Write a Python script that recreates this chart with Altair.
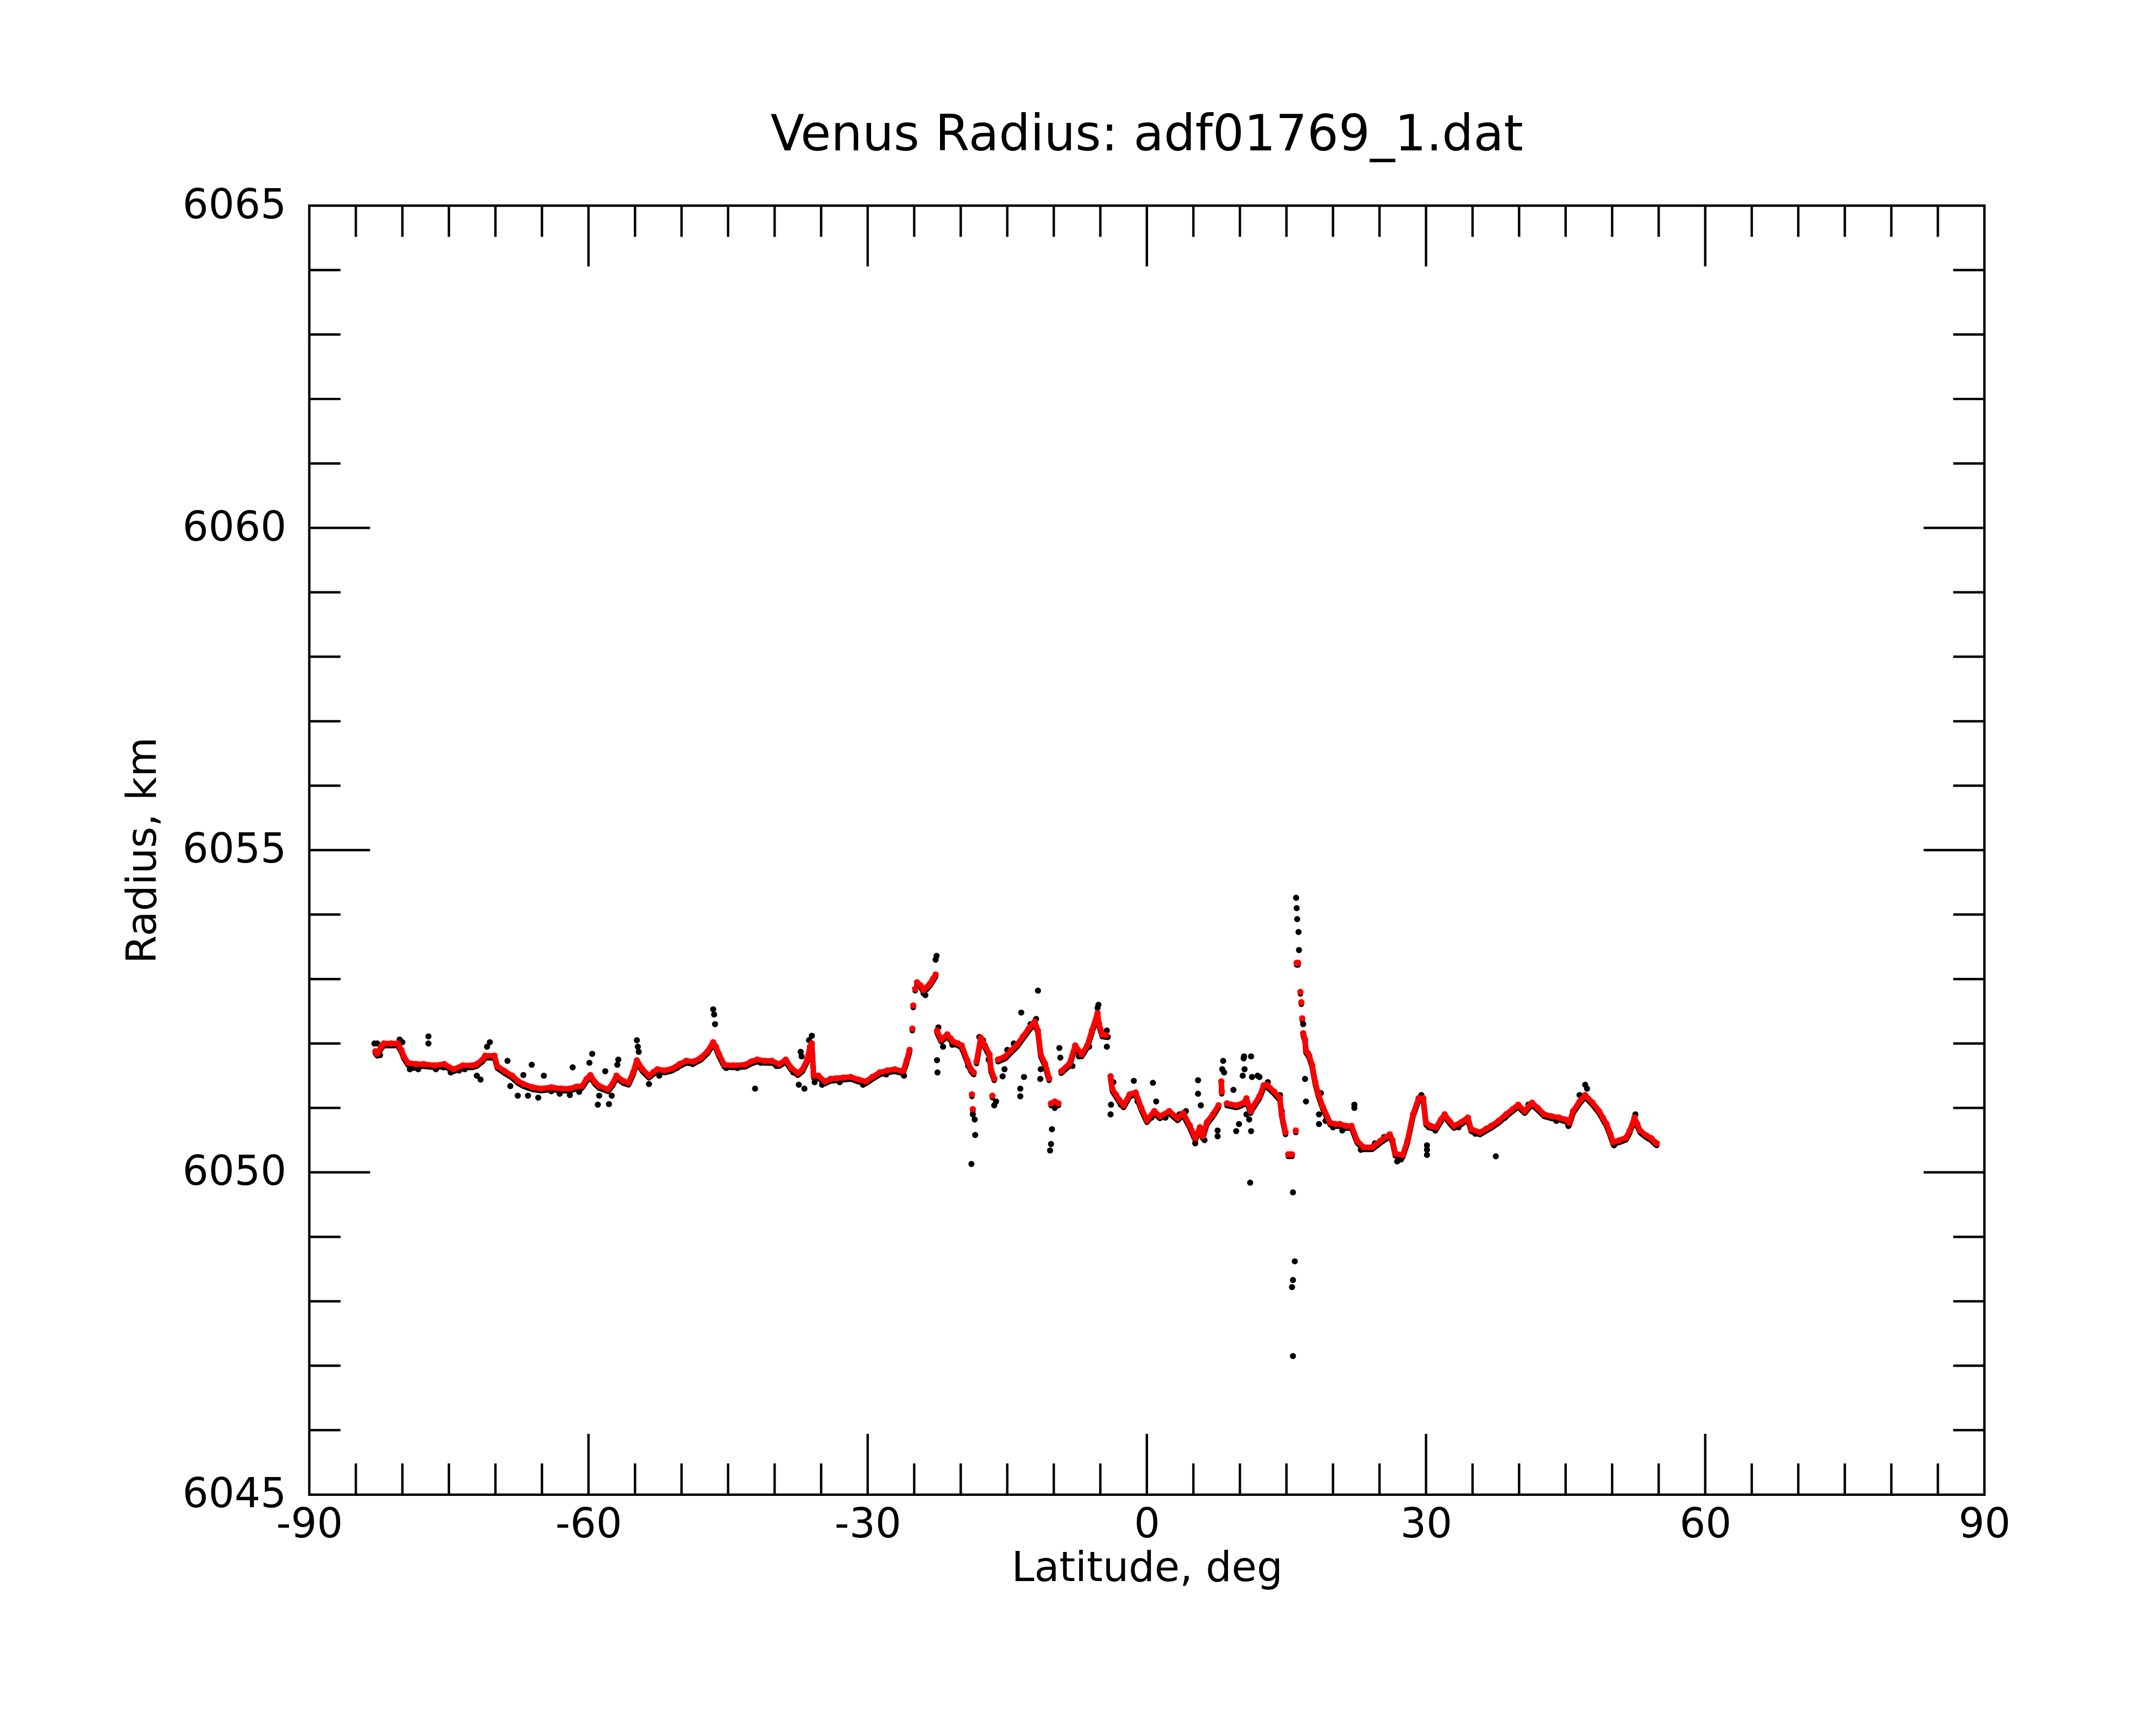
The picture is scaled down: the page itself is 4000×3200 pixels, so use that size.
import altair as alt
import pandas as pd

# ---------------- data ----------------
# smoothed (red) radius trace
red_lat = [
    -82.9, -82.7, -82.3, -82.0, -81.2, -80.5, -80.1, -79.85, -79.4, -78.5,
    -77.7, -76.5, -75.5, -74.5, -73.5, -72.5, -72.0, -71.4, -71.1, -70.1,
    -69.8, -69.0, -68.2, -67.6, -67.0, -66.0, -65.1, -64.0, -63.0, -62.0,
    -61.3, -60.7, -60.2, -59.8, -59.3, -58.85, -57.9, -57.4, -57.0, -56.3,
    -55.7, -55.2, -54.8, -54.2, -53.5, -53.0, -52.6, -51.8, -51.0, -50.2,
    -49.5, -48.7, -47.9, -47.2, -46.6, -46.3, -46.0, -45.4, -44.5, -43.2,
    -42.5, -41.9, -41.0, -40.3, -39.5, -38.8, -38.2, -37.5, -37.0, -36.5,
    -36.2, -36.0, -35.8, -35.3, -34.6, -34.0, -33.4, -32.6, -31.8, -31.0,
    -30.2, -29.5, -28.7, -27.9, -27.1, -26.2, -25.8, -25.5,
    -25.2, -25.1, -24.9,
    -24.7, -24.3, -24.0, -23.6, -23.3, -23.0, -22.7,
    -22.55, -22.1, -21.45, -21.1, -20.8, -20.3, -19.9, -19.3, -18.9, -18.6,
    -18.8, -18.7,
    -18.3, -17.85, -17.4, -16.9, -16.75, -16.4,
    -16.6,
    -16.0, -15.2, -14.6, -13.9, -13.3, -12.7, -12.05, -11.7, -11.4, -10.95, -10.5,
    -10.3, -9.9, -9.5,
    -9.2, -8.3, -7.7, -7.0, -6.4, -5.9, -5.3, -5.15, -4.8, -4.4,
    -3.9, -3.7, -3.3, -2.95, -2.5, -1.85, -1.2, -0.6, 0.0, 0.8,
    1.4, 2.4, 3.3, 3.9, 4.6, 5.2, 5.7, 6.0, 6.45, 7.1, 7.7,
    8.0, 8.05,
    8.6, 9.6, 9.9, 10.5, 10.7, 11.15, 11.3, 12.1, 12.56, 12.9, 13.7, 14.3, 14.5, 14.9,
    15.2, 15.4, 15.6,
    16.0,
    16.1, 16.25,
    16.5, 16.6, 16.7,
    16.8, 17.0, 17.1, 17.45, 17.77, 18.1, 18.4, 18.9, 19.7, 20.2,
    20.75, 21.4, 22.0, 22.6, 23.3, 24.2, 25.1, 26.1, 26.4, 26.7,
    27.5, 28.0, 28.6, 29.2, 29.7, 30.0, 30.5, 31.1, 31.6, 32.0,
    32.5, 33.0, 33.8, 34.5, 34.85, 35.8, 36.5, 37.0, 37.8, 38.6,
    39.3, 39.9, 40.6, 41.0, 41.4, 42.0, 42.7, 43.5, 44.3, 45.0,
    45.4, 45.8, 46.5, 47.1, 47.9, 48.6, 49.0, 49.4, 49.8, 50.1,
    50.8, 51.5, 51.9, 52.4, 52.7, 53.0, 53.7, 54.2, 54.6, 54.8,
]
red_r = [
    6051.88, 6051.84, 6051.95, 6052.00, 6052.00, 6052.00, 6051.90, 6051.80, 6051.70, 6051.68,
    6051.68, 6051.66, 6051.68, 6051.60, 6051.66, 6051.66, 6051.68, 6051.75, 6051.81, 6051.81,
    6051.65, 6051.57, 6051.50, 6051.42, 6051.37, 6051.32, 6051.30, 6051.32, 6051.30, 6051.30,
    6051.33, 6051.34, 6051.45, 6051.51, 6051.40, 6051.34, 6051.29, 6051.38, 6051.50, 6051.42,
    6051.39, 6051.55, 6051.74, 6051.60, 6051.50, 6051.56, 6051.60, 6051.58, 6051.61, 6051.68,
    6051.73, 6051.72, 6051.78, 6051.88, 6052.02, 6051.95, 6051.84, 6051.67, 6051.66, 6051.67,
    6051.72, 6051.75, 6051.73, 6051.73, 6051.68, 6051.75, 6051.62, 6051.54, 6051.60, 6051.75,
    6051.95, 6052.00, 6051.50, 6051.50, 6051.41, 6051.45, 6051.46, 6051.47, 6051.48, 6051.44,
    6051.41, 6051.48, 6051.55, 6051.58, 6051.60, 6051.57, 6051.74, 6051.90,
    6052.23, 6052.59, 6052.85,
    6052.95, 6052.90, 6052.83, 6052.88, 6052.93, 6053.00, 6053.07,
    6052.20, 6052.06, 6052.14, 6052.08, 6052.03, 6052.00, 6051.97, 6051.74, 6051.60, 6051.55,
    6051.21, 6050.98,
    6051.72, 6052.09, 6051.97, 6051.83, 6051.60, 6051.46,
    6051.19,
    6051.75, 6051.80, 6051.89, 6051.99, 6052.11, 6052.23, 6052.34, 6052.20, 6051.83, 6051.69, 6051.46,
    6051.07, 6051.10, 6051.07,
    6051.57, 6051.69, 6051.97, 6051.83, 6051.97, 6052.20, 6052.47, 6052.31, 6052.14, 6052.13,
    6051.49, 6051.29, 6051.20, 6051.12, 6051.04, 6051.21, 6051.24, 6051.00, 6050.81, 6050.95,
    6050.87, 6050.95, 6050.84, 6050.92, 6050.73, 6050.53, 6050.70, 6050.56, 6050.78, 6050.90, 6051.04,
    6051.41, 6051.25,
    6051.07, 6051.04, 6051.05, 6051.09, 6051.15, 6050.95, 6051.00, 6051.18, 6051.35, 6051.36, 6051.25, 6051.15, 6050.90, 6050.62,
    6050.28, 6050.28, 6050.28,
    6050.65,
    6053.25, 6053.25,
    6052.80, 6052.64, 6052.39,
    6052.16, 6052.06, 6051.89, 6051.81, 6051.66, 6051.40, 6051.23, 6051.02, 6050.77, 6050.75,
    6050.75, 6050.72, 6050.72, 6050.49, 6050.39, 6050.39, 6050.49, 6050.59, 6050.50, 6050.29,
    6050.27, 6050.49, 6050.90, 6051.15, 6051.15, 6050.77, 6050.72, 6050.70, 6050.82, 6050.90,
    6050.80, 6050.72, 6050.78, 6050.85, 6050.67, 6050.62, 6050.68, 6050.72, 6050.80, 6050.90,
    6050.98, 6051.05, 6050.95, 6051.02, 6051.08, 6051.00, 6050.90, 6050.87, 6050.85, 6050.82,
    6050.77, 6050.95, 6051.10, 6051.20, 6051.08, 6050.95, 6050.85, 6050.75, 6050.60, 6050.47,
    6050.50, 6050.54, 6050.65, 6050.85, 6050.75, 6050.65, 6050.57, 6050.53, 6050.47, 6050.45,
]
# latitudes where the red trace has a gap before the point
red_gap_before = [-25.2, -25.1, -24.9, -24.7, -22.55, -18.8, -18.7, -18.3, -16.6,
                  -16.0, -10.3, -9.2, -3.9, 8.0, 8.6, 15.2, 16.0, 16.1, 16.5,
                  16.6, 16.7, 16.8]

# raw (black) radius samples that stand out from the trace
black_lat = [
    -83.0, -82.7, -82.4, -80.3, -80.0, -79.2, -78.8, -78.3, -77.2, -77.2,
    -76.4, -75.6, -74.8, -73.9, -73.3, -72.0, -71.6, -70.9, -70.6, -68.7,
    -68.4, -67.6, -67.0, -66.5, -66.1, -65.4, -64.8, -64.0, -63.1, -62.0,
    -61.7, -61.0, -59.9, -59.6, -59.0, -58.85, -58.2, -57.8, -57.5, -56.8,
    -56.9, -54.8, -54.7, -54.6, -53.5, -52.4, -50.5, -48.8, -46.6, -46.5,
    -46.4, -45.2, -44.0, -42.1, -41.5, -39.8, -38.0, -37.4, -37.2, -37.1,
    -36.8, -36.3, -36.0, -35.7, -34.9, -33.0, -30.5, -28.0, -26.1, -24.0,
    -23.8, -22.7, -22.6, -22.55, -22.5, -22.4, -21.9, -20.9, -19.8, -19.2,
    -18.85, -18.7, -18.5, -18.45, -18.0, -17.6, -17.0, -16.4, -16.2, -15.5,
    -15.3, -15.0, -14.3, -13.6, -13.6, -13.5, -13.2, -12.5, -11.9, -11.7,
    -11.4, -11.45, -10.8, -10.2, -10.3, -10.4, -9.9, -9.4, -9.3, -8.8,
    -8.0, -7.3, -6.2, -5.3, -5.2, -4.3, -4.2, -4.3, -3.9, -3.85,
    -3.6, -2.8, -1.4, -1.0, 0.65, 0.5, 1.0, 2.0, 3.5, 4.2,
    5.2, 5.5, 5.5, 5.8, 6.2, 7.6, 7.6, 8.2, 8.1, 8.3,
    9.3, 9.6, 9.9, 10.4, 10.45, 10.5, 10.3, 10.7, 11.0, 11.1,
    11.2, 11.2, 11.3, 11.9, 12.1, 13.0, 14.3, 14.5, 15.6, 15.7,
    15.9, 15.7, 15.7, 16.04, 16.1, 16.15, 16.3, 16.35, 16.8, 17.1,
    17.0, 17.3, 18.5, 18.5, 18.7, 19.2, 20.0, 21.0, 22.3, 22.3,
    22.0, 23.0, 24.5, 25.5, 26.9, 27.3, 29.5, 30.1, 30.1, 30.1,
    30.3, 31.0, 33.5, 35.3, 37.5, 38.5, 41.0, 44.0, 45.3, 46.5,
    47.1, 47.3, 48.3, 50.2, 52.5, 54.0,
]
black_r = [
    6052.00, 6052.00, 6051.82, 6052.06, 6052.02, 6051.60, 6051.62, 6051.60, 6052.11, 6052.00,
    6051.60, 6051.63, 6051.55, 6051.58, 6051.60, 6051.50, 6051.44, 6051.95, 6052.02, 6051.73,
    6051.34, 6051.19, 6051.51, 6051.19, 6051.67, 6051.16, 6051.50, 6051.26, 6051.22, 6051.20,
    6051.63, 6051.25, 6051.70, 6051.84, 6051.05, 6051.19, 6051.57, 6051.06, 6051.19, 6051.75,
    6051.67, 6052.05, 6051.95, 6051.87, 6051.37, 6051.50, 6051.62, 6051.68, 6052.53, 6052.45,
    6052.30, 6051.62, 6051.62, 6051.30, 6051.70, 6051.65, 6051.55, 6051.36, 6051.87, 6051.80,
    6051.30, 6052.05, 6052.12, 6051.40, 6051.36, 6051.40, 6051.36, 6051.52, 6051.50, 6052.78,
    6052.75, 6053.30, 6053.36, 6051.74, 6051.55, 6052.25, 6051.95, 6051.98, 6051.90, 6051.65,
    6050.13, 6050.90, 6050.82, 6050.58, 6052.10, 6052.05, 6051.75, 6051.04, 6051.10, 6051.49,
    6051.60, 6051.90, 6052.00, 6051.30, 6051.18, 6052.48, 6051.48, 6052.30, 6052.38, 6052.82,
    6051.60, 6051.45, 6051.60, 6050.67, 6050.44, 6050.34, 6051.00, 6051.93, 6051.78, 6051.60,
    6051.65, 6051.80, 6051.95, 6052.55, 6052.60, 6052.20, 6052.10, 6051.95, 6050.90, 6051.05,
    6051.40, 6051.05, 6051.42, 6051.10, 6051.39, 6050.85, 6051.10, 6050.85, 6050.90, 6050.95,
    6050.45, 6051.43, 6051.22, 6051.04, 6050.50, 6050.56, 6050.65, 6051.73, 6051.60, 6051.55,
    6051.28, 6050.64, 6050.75, 6051.77, 6051.80, 6051.60, 6051.50, 6050.90, 6050.82, 6049.84,
    6051.80, 6050.64, 6051.48, 6051.50, 6051.48, 6051.40, 6051.20, 6050.95, 6048.22, 6048.33,
    6048.62, 6049.69, 6047.15, 6054.26, 6054.10, 6053.93, 6053.73, 6053.45, 6052.30, 6051.10,
    6051.45, 6051.85, 6050.75, 6050.90, 6051.23, 6050.80, 6050.70, 6050.65, 6051.05, 6051.00,
    6050.68, 6050.35, 6050.45, 6050.55, 6050.17, 6050.20, 6051.20, 6050.35, 6050.27, 6050.42,
    6050.70, 6050.65, 6050.70, 6050.60, 6050.25, 6050.85, 6051.05, 6050.80, 6050.72, 6051.20,
    6051.36, 6051.30, 6051.00, 6050.42, 6050.90, 6050.52,
]

x_label_values = [-90, -60, -30, 0, 30, 60, 90]
y_label_values = [6045, 6050, 6055, 6060, 6065]
x_minor_step = 5
y_minor_step = 1

# ---------------- layout ----------------
W, H = 3114, 2396
XMIN, XMAX, YMIN, YMAX = -90, 90, 6045, 6065
PX_DEG = W / (XMAX - XMIN)
PX_KM = H / (YMAX - YMIN)
MAJOR_PX, MINOR_PX = 113, 58
FONT = "DejaVu Sans"

assert len(red_lat) == len(red_r)
assert len(black_lat) == len(black_r)

seg, segs = 0, []
gaps = set(red_gap_before)
for la in red_lat:
    if la in gaps:
        seg += 1
    segs.append(seg)
red_df = pd.DataFrame({"lat": red_lat, "r": red_r, "seg": segs})
black_df = pd.DataFrame({"lat": black_lat, "r": black_r})

# inward ticks on all four sides (in data units)
xt = []
for v in range(XMIN + x_minor_step, XMAX, x_minor_step):
    L = (MAJOR_PX if v % 30 == 0 else MINOR_PX) / PX_KM
    xt.append({"lat": v, "r": YMIN, "r2": YMIN + L})
    xt.append({"lat": v, "r": YMAX, "r2": YMAX - L})
yt = []
for v in range(YMIN + y_minor_step, YMAX, y_minor_step):
    L = (MAJOR_PX if v % 5 == 0 else MINOR_PX) / PX_DEG
    yt.append({"r": v, "lat": XMIN, "lat2": XMIN + L})
    yt.append({"r": v, "lat": XMAX, "lat2": XMAX - L})
xt_df = pd.DataFrame(xt)
yt_df = pd.DataFrame(yt)

xs = alt.Scale(domain=[XMIN, XMAX], nice=False, zero=False)
ys = alt.Scale(domain=[YMIN, YMAX], nice=False, zero=False)

lbl = "datum.value < 0 ? '-' + abs(datum.value) : '' + datum.value"
xaxis = alt.Axis(values=x_label_values, ticks=False, domain=False, grid=False,
                 labelFont=FONT, labelFontSize=76, labelColor="black",
                 labelPadding=19, labelFlush=False, labelOverlap=False,
                 labelLimit=1000, labelExpr=lbl, title="Latitude, deg",
                 titleFont=FONT, titleFontSize=76, titleFontWeight="normal",
                 titleColor="black", titlePadding=6)
yaxis = alt.Axis(values=y_label_values, ticks=False, domain=False, grid=False,
                 labelFont=FONT, labelFontSize=76, labelColor="black",
                 labelPadding=43, labelOverlap=False, labelLimit=1000,
                 labelExpr=lbl, title="Radius, km", titleFont=FONT,
                 titleFontSize=76, titleFontWeight="normal", titleColor="black",
                 titlePadding=70)

X = alt.X("lat:Q", scale=xs, axis=xaxis)
Y = alt.Y("r:Q", scale=ys, axis=yaxis)

xticks = alt.Chart(xt_df).mark_rule(color="black", strokeWidth=4.5).encode(
    x=X, y=Y, y2="r2:Q")
yticks = alt.Chart(yt_df).mark_rule(color="black", strokeWidth=4.5).encode(
    x=X, x2="lat2:Q", y=Y)

fringe = alt.Chart(red_df).mark_line(color="black", strokeWidth=10, yOffset=4,
                                     strokeCap="round", strokeJoin="round").encode(
    x=X, y=Y, detail="seg:N", order="lat:Q")
black_pts = alt.Chart(black_df).mark_circle(color="black", size=130, opacity=1).encode(
    x=X, y=Y)
red_line = alt.Chart(red_df).mark_line(color="#ff0000", strokeWidth=10,
                                       strokeCap="round", strokeJoin="round").encode(
    x=X, y=Y, detail="seg:N", order="lat:Q")
red_pts = alt.Chart(red_df).mark_circle(color="#ff0000", size=140, opacity=1).encode(
    x=X, y=Y)

chart = alt.layer(xticks, yticks, fringe, black_pts, red_line, red_pts).properties(
    width=W, height=H,
    autosize="none",
    padding={"left": 567, "top": 371, "right": 311, "bottom": 417},
    background="white",
    title=alt.Title("Venus Radius: adf01769_1.dat", font=FONT, fontSize=92,
                    fontWeight="normal", color="black", anchor="middle",
                    frame="group", baseline="bottom", offset=78, dy=124),
).configure_view(stroke="black", strokeWidth=4.5)

chart.save("out.html", embed_options={"renderer": "svg", "actions": False})
